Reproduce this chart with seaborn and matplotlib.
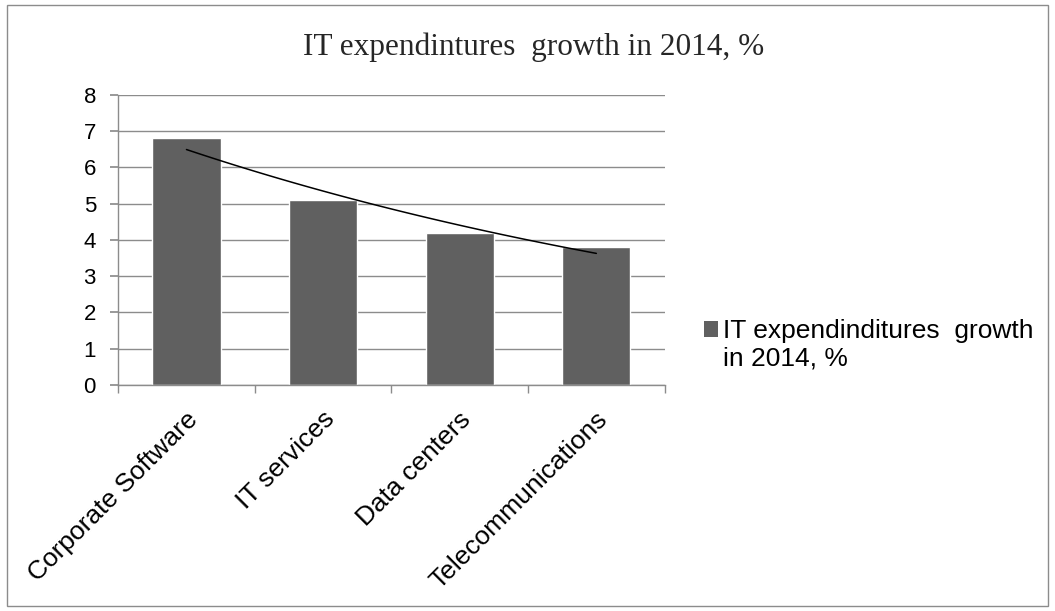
import numpy as np
import pandas as pd
import matplotlib
matplotlib.use("Agg")
import matplotlib.pyplot as plt
import matplotlib.transforms as mtransforms
from matplotlib.patches import Rectangle, Patch
from matplotlib.legend_handler import HandlerPatch
import seaborn as sns

categories = ["Corporate Software", "IT services", "Data centers", "Telecommunications"]
growth = [6.8, 5.1, 4.2, 3.8]
title = "IT expendintures  growth in 2014, %"
series_name = "IT expendinditures  growth\nin 2014, %"

data = pd.DataFrame({"category": categories, "growth": growth})

sns.set_theme(style="white")
plt.rcParams["font.family"] = ["Liberation Sans", "DejaVu Sans"]

fig = plt.figure(figsize=(10.55, 6.11), dpi=100)
ax = fig.add_axes([0.112, 0.37, 0.518, 0.475])

bar_color = "#606060"
sns.barplot(data=data, x="category", y="growth", color=bar_color, width=0.5,
            saturation=1, ax=ax)

# exponential trendline (as Excel does)
xs = np.arange(1, len(growth) + 1)
b, a = np.polyfit(xs, np.log(growth), 1)
xx = np.linspace(1, len(growth), 100)
trend = pd.DataFrame({"x": xx - 1, "y": np.exp(a + b * xx)})
sns.lineplot(data=trend, x="x", y="y", color="black", linewidth=1.1, ax=ax)

ax.set_xlim(-0.5, len(categories) - 0.5)
ax.set_ylim(0, 8)
ax.set_yticks(range(0, 9))
ax.yaxis.grid(True, color="#8c8c8c", linewidth=1)
ax.set_axisbelow(True)
ax.set_xlabel("")
ax.set_ylabel("")

for side in ["top", "right"]:
    ax.spines[side].set_visible(False)
for side in ["left", "bottom"]:
    ax.spines[side].set_color("#8c8c8c")
    ax.spines[side].set_linewidth(1)

ax.tick_params(axis="y", left=True, length=6, color="#8c8c8c", labelsize=16,
               labelcolor="black", pad=10)
ax.tick_params(axis="x", bottom=False, labelsize=19, labelcolor="black")

# category boundary ticks
ax.set_xticks(np.arange(-0.5, len(categories)), minor=True)
ax.tick_params(axis="x", which="minor", bottom=True, length=6, color="#8c8c8c")

ax.set_xticks(range(len(categories)))
ax.set_xticklabels(categories, rotation=45, ha="right", rotation_mode="anchor")
offset = mtransforms.ScaledTranslation(-1 / 100, -9 / 100, fig.dpi_scale_trans)
for lbl in ax.get_xticklabels():
    lbl.set_transform(lbl.get_transform() + offset)

fig.text(0.506, 0.923, title, ha="center", va="center", fontsize=22.5,
         family=["Liberation Serif", "DejaVu Serif"])


def top_square(legend, orig_handle, xdescent, ydescent, width, height, fontsize):
    return Rectangle((-xdescent, -ydescent + 0.6 * fontsize), width, height)


handle = Patch(facecolor=bar_color, edgecolor="none")
fig.legend([handle], [series_name], loc="center left",
           bbox_to_anchor=(0.667, 0.436), frameon=False, fontsize=19,
           handlelength=0.55, handleheight=0.55, handletextpad=0.2,
           labelcolor="black", borderpad=0, borderaxespad=0,
           handler_map={Patch: HandlerPatch(patch_func=top_square)})

fig.patches.append(Rectangle((0.007, 0.008), 0.986, 0.984, transform=fig.transFigure,
                             fill=False, edgecolor="#8c8c8c", linewidth=1))

fig.savefig("out.png", dpi=100, facecolor="white")
